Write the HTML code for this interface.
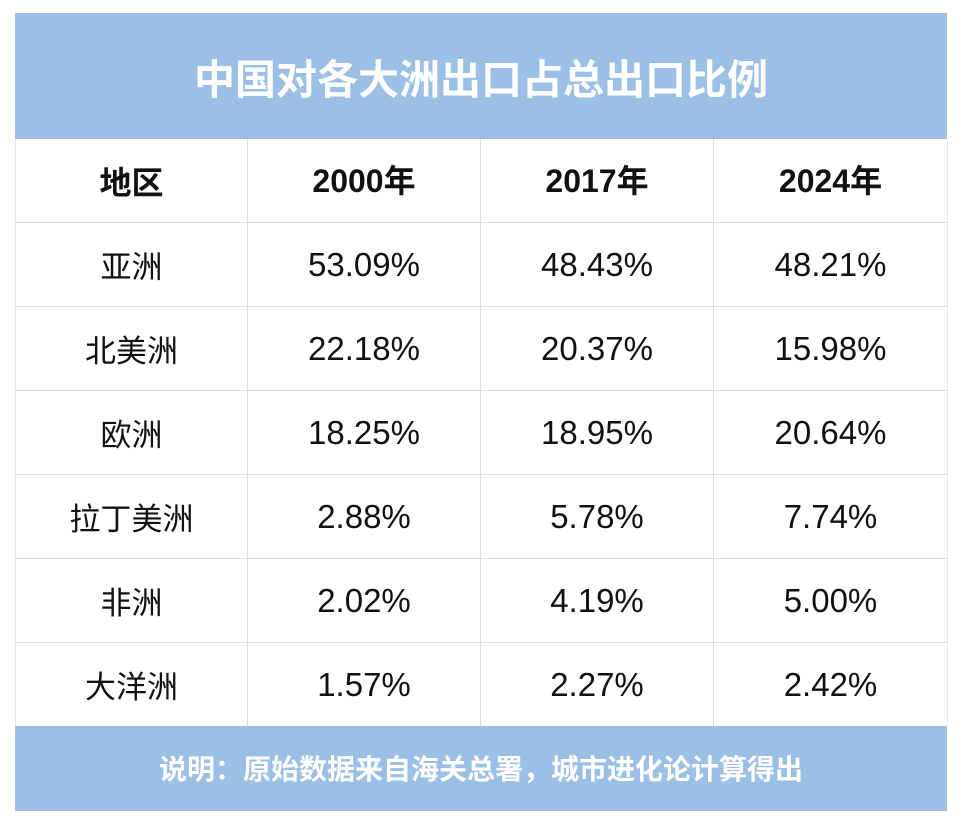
<!DOCTYPE html>
<html><head><meta charset="utf-8"><style>
body{margin:0;width:960px;height:825px;background:#fff;position:relative;overflow:hidden;font-family:"Liberation Sans","Noto Sans CJK SC",sans-serif}
.band{position:absolute;left:15px;width:932px;background:#9bbfe5;color:#fff;text-align:center;font-weight:bold;font-family:"Noto Sans CJK SC",sans-serif}
#t{top:13px;height:126px;line-height:126px;font-size:41px}
#f{top:726px;height:85px;line-height:85px;font-size:28px}
table{position:absolute;left:15px;top:139px;width:932px;border-collapse:collapse;table-layout:fixed}
td{height:83px;border:1px solid #ddd;text-align:center;font-size:33px;color:#111;padding:0;line-height:40px}
td:first-child{font-family:"Noto Sans CJK SC",sans-serif;font-size:31px}
tr:first-child td{font-weight:bold;border-top:none;font-size:32px}
tr:last-child td{border-bottom:none}
td:first-child{border-left:1px solid #e6e6e6}
td:last-child{border-right:1px solid #e6e6e6}
</style></head><body>
<div class="band" id="t">中国对各大洲出口占总出口比例</div>
<table>
<colgroup><col style="width:232px"><col style="width:233px"><col style="width:233px"><col style="width:234px"></colgroup>
<tr><td>地区</td><td>2000年</td><td>2017年</td><td>2024年</td></tr>
<tr><td>亚洲</td><td>53.09%</td><td>48.43%</td><td>48.21%</td></tr>
<tr><td>北美洲</td><td>22.18%</td><td>20.37%</td><td>15.98%</td></tr>
<tr><td>欧洲</td><td>18.25%</td><td>18.95%</td><td>20.64%</td></tr>
<tr><td>拉丁美洲</td><td>2.88%</td><td>5.78%</td><td>7.74%</td></tr>
<tr><td>非洲</td><td>2.02%</td><td>4.19%</td><td>5.00%</td></tr>
<tr><td>大洋洲</td><td>1.57%</td><td>2.27%</td><td>2.42%</td></tr>
</table>
<div class="band" id="f">说明：原始数据来自海关总署，城市进化论计算得出</div>
</body></html>
